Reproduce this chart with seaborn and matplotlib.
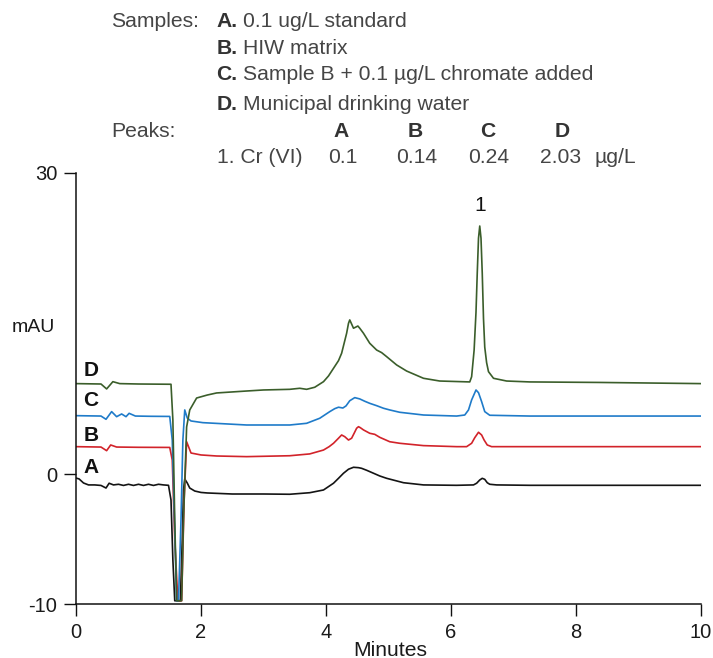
import numpy as np
import pandas as pd
import matplotlib
matplotlib.use("Agg")
import matplotlib.pyplot as plt
import seaborn as sns

# ---------------- data ----------------
time_A = [0.00, 0.05, 0.12, 0.20, 0.30, 0.40, 0.48, 0.53, 0.60, 0.68, 0.76, 0.84,
          0.92, 1.00, 1.08, 1.16, 1.24, 1.32, 1.40, 1.48, 1.52, 1.55, 1.58, 1.67,
          1.70, 1.72, 1.74, 1.78, 1.82, 1.90, 2.00, 2.10, 2.50, 3.00, 3.42, 3.74,
          3.96, 4.12, 4.20, 4.28, 4.36, 4.44, 4.52, 4.57, 4.65, 4.76, 4.86, 4.97,
          5.24, 5.56, 6.09, 6.36, 6.41, 6.46, 6.50, 6.54, 6.58, 6.62, 6.73, 7.26,
          8.50, 10.0]
mau_A = [-0.29, -0.36, -0.67, -0.82, -0.82, -0.86, -1.06, -0.69, -0.82, -0.77, -0.86, -0.77,
         -0.86, -0.77, -0.86, -0.77, -0.86, -0.77, -0.82, -0.85, -1.98, -6.61, -9.75, -9.75,
         -5.07, -1.21, -0.36, -0.67, -1.06, -1.29, -1.40, -1.44, -1.52, -1.52, -1.54, -1.42,
         -1.21, -0.69, -0.31, 0.08, 0.39, 0.54, 0.51, 0.46, 0.31, 0.08, -0.13, -0.31,
         -0.65, -0.82, -0.85, -0.82, -0.69, -0.44, -0.31, -0.39, -0.65, -0.77, -0.82, -0.85,
         -0.85, -0.85]

time_B = [0.00, 0.40, 0.49, 0.555, 0.65, 1.00, 1.50, 1.54, 1.58, 1.63, 1.69, 1.73,
          1.77, 1.84, 2.00, 2.25, 2.73, 3.42, 3.74, 3.96, 4.05, 4.12, 4.20, 4.25,
          4.30, 4.36, 4.41, 4.45, 4.49, 4.52, 4.55, 4.60, 4.70, 4.78, 4.86, 5.02,
          5.18, 5.56, 6.09, 6.25, 6.33, 6.38, 6.44, 6.49, 6.53, 6.58, 6.65, 7.26, 10.0]
mau_B = [2.13, 2.10, 1.82, 2.26, 2.10, 2.08, 2.07, 1.10, -5.07, -9.75, -9.75, -1.98,
         2.51, 1.64, 1.49, 1.41, 1.36, 1.43, 1.57, 1.87, 2.13, 2.39, 2.78, 3.03,
         2.90, 2.64, 2.78, 3.16, 3.55, 3.67, 3.59, 3.42, 3.16, 3.08, 2.85, 2.51,
         2.39, 2.21, 2.13, 2.13, 2.39, 2.82, 3.24, 3.03, 2.64, 2.26, 2.13, 2.13, 2.13]

time_C = [0.00, 0.40, 0.48, 0.57, 0.65, 0.73, 0.80, 0.85, 0.95, 1.20, 1.50, 1.54,
          1.58, 1.61, 1.64, 1.68, 1.71, 1.74, 1.78, 1.84, 2.03, 2.73, 3.42, 3.69,
          3.90, 4.06, 4.14, 4.20, 4.27, 4.32, 4.38, 4.46, 4.54, 4.62, 4.70, 4.81,
          4.92, 5.02, 5.18, 5.56, 6.09, 6.22, 6.28, 6.33, 6.40, 6.44, 6.49, 6.54,
          6.62, 7.26, 10.0]
mau_C = [4.52, 4.49, 4.24, 4.83, 4.44, 4.65, 4.44, 4.70, 4.49, 4.47, 4.46, 2.64,
         -4.29, -9.75, -9.75, -3.52, 2.64, 4.96, 4.34, 4.11, 3.98, 3.80, 3.80, 3.93,
         4.32, 4.83, 5.06, 5.17, 5.11, 5.27, 5.67, 5.91, 5.81, 5.63, 5.47, 5.29,
         5.09, 4.96, 4.78, 4.57, 4.49, 4.57, 4.96, 5.73, 6.50, 6.29, 5.60, 4.83,
         4.55, 4.49, 4.49]

time_D = [0.00, 0.40, 0.49, 0.59, 0.70, 1.00, 1.52, 1.55, 1.58, 1.61, 1.69, 1.72,
          1.77, 1.82, 1.93, 2.10, 2.25, 2.73, 3.00, 3.42, 3.58, 3.69, 3.82, 3.96,
          4.04, 4.12, 4.20, 4.25, 4.29, 4.33, 4.36, 4.38, 4.40, 4.44, 4.47, 4.51,
          4.54, 4.60, 4.70, 4.81, 4.89, 4.97, 5.13, 5.29, 5.56, 5.82, 6.30, 6.33,
          6.37, 6.40, 6.42, 6.44, 6.46, 6.48, 6.50, 6.52, 6.54, 6.57, 6.60, 6.68,
          6.89, 7.26, 8.38, 10.0]
mau_D = [6.99, 6.96, 6.58, 7.14, 6.99, 6.96, 6.94, 4.19, -3.52, -9.75, -9.75, -3.52,
         3.65, 4.96, 5.88, 6.11, 6.27, 6.42, 6.50, 6.55, 6.63, 6.55, 6.71, 7.14,
         7.58, 8.17, 8.76, 9.33, 10.10, 10.87, 11.64, 11.90, 11.69, 11.26, 11.33, 11.43,
         11.26, 10.87, 10.10, 9.58, 9.38, 9.07, 8.43, 7.96, 7.40, 7.19, 7.12, 7.52,
         9.58, 12.5, 15.5, 18.2, 19.14, 18.2, 15.5, 12.0, 9.8, 8.6, 7.91, 7.40,
         7.19, 7.12, 7.08, 6.99]

trace_names = ["A", "B", "C", "D"]
trace_colors = {"A": "#141414", "B": "#d2232a", "C": "#1f7bc9", "D": "#3b5e2b"}

sample_letters = ["A.", "B.", "C.", "D."]
sample_texts = ["0.1 ug/L standard", "HIW matrix",
                "Sample B + 0.1 µg/L chromate added", "Municipal drinking water"]
peak_name = "1. Cr (VI)"
peak_conc = ["0.1", "0.14", "0.24", "2.03"]
peak_unit = "µg/L"

xticks = [0, 2, 4, 6, 8, 10]
ytick_labels = ["-10", "0", "30"]

# ---------------- figure ----------------
sns.set_theme(style="ticks")
plt.rcParams["font.family"] = ["Liberation Sans", "DejaVu Sans"]

W, H = 713, 658
fig = plt.figure(figsize=(W / 100, H / 100), dpi=100)
ax = fig.add_axes([76 / W, 1 - 604 / H, (701 - 76) / W, (604 - 172.7) / H])

frames = []
for name, t, v in [("A", time_A, mau_A), ("B", time_B, mau_B),
                   ("C", time_C, mau_C), ("D", time_D, mau_D)]:
    frames.append(pd.DataFrame({"time": t, "mAU": v, "sample": name}))
df = pd.concat(frames, ignore_index=True)

for name in trace_names:
    sub = df[df["sample"] == name]
    sns.lineplot(data=sub, x="time", y="mAU", color=trace_colors[name],
                 linewidth=1.2, sort=False, estimator=None, ax=ax, legend=False,
                 solid_joinstyle="round", solid_capstyle="round")

ytop = 23.25
ax.set_xlim(0, 10)
ax.set_ylim(-10, ytop)
ax.set_xticks(xticks)
ax.set_xticklabels([str(x) for x in xticks])
ax.set_yticks([-10, 0, ytop])
ax.set_yticklabels(ytick_labels)
sns.despine(ax=ax)
for s in ["left", "bottom"]:
    ax.spines[s].set_linewidth(1.1)
    ax.spines[s].set_color("#111111")
ax.tick_params(axis="both", length=8.5, width=1.0, colors="#111111",
               labelsize=14.5, labelcolor="#1a1a1a")
ax.tick_params(axis="x", pad=5)
ax.tick_params(axis="y", pad=5)
ax.set_xlabel("")
ax.set_ylabel("")

# trace labels at the left of each trace
label_y = {"A": 0.54, "B": 2.96, "C": 5.68, "D": 7.99}
for name in trace_names:
    ax.text(0.24, label_y[name], name, ha="center", va="center",
            fontsize=15, fontweight="bold", color="#111111")

# peak label
sub = df[df["sample"] == "D"]
imax = sub["mAU"].idxmax()
ax.annotate("1", xy=(sub.loc[imax, "time"], sub.loc[imax, "mAU"]),
            xytext=(0, 8), textcoords="offset points", ha="center", va="bottom",
            fontsize=15, color="#111111")

def fx(x):
    return x / W

def fy(y):
    return 1 - y / H

hdr = "#454545"
fs = 15.2
fig.text(fx(111), fy(27.3), "Samples:", fontsize=fs, color=hdr, va="baseline")
baselines = [27.3, 54.0, 80.3, 110.0]
for letter, txt, b in zip(sample_letters, sample_texts, baselines):
    fig.text(fx(216.5), fy(b), letter, fontsize=fs, color="#333333",
             fontweight="bold", va="baseline")
    fig.text(fx(243), fy(b), txt, fontsize=fs, color=hdr, va="baseline")

fig.text(fx(111), fy(136.7), "Peaks:", fontsize=fs, color=hdr, va="baseline")
col_x = [341, 415, 488, 562]
for cx, name in zip(col_x, trace_names):
    fig.text(fx(cx), fy(136.7), name, fontsize=fs, color="#333333",
             fontweight="bold", ha="center", va="baseline")
fig.text(fx(217), fy(163.3), peak_name, fontsize=fs, color=hdr, va="baseline")
for cx, c in zip([343, 417, 488.5, 561], peak_conc):
    fig.text(fx(cx), fy(163.3), c, fontsize=fs, color=hdr, ha="center", va="baseline")
fig.text(fx(595), fy(163.3), peak_unit, fontsize=fs, color=hdr, va="baseline")

fig.text(fx(11.7), fy(331.7), "mAU", fontsize=14, color="#1a1a1a", va="baseline")
fig.text(fx(390.5), fy(655.5), "Minutes", fontsize=15.2, color="#1a1a1a",
         ha="center", va="baseline")

fig.savefig("out.png", dpi=100)
